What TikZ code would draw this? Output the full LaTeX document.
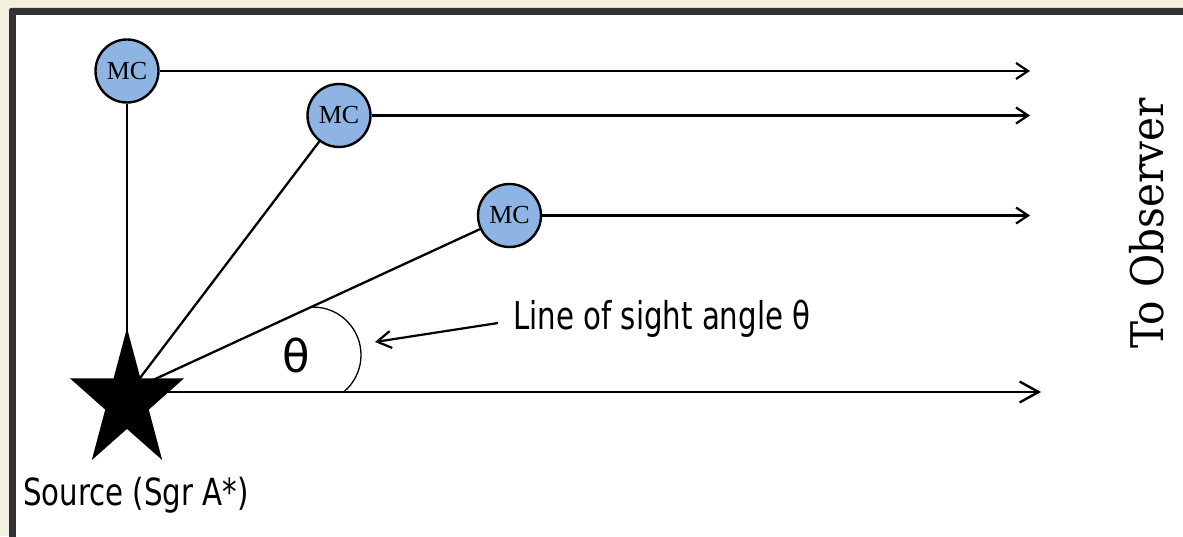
\documentclass[tikz,border=0pt]{standalone}
\usepackage{fontspec}
\usepackage{graphicx}
\usetikzlibrary{arrows.meta}
\newfontfamily\mcfont{Liberation Serif}
\newfontfamily\labfont{DejaVu Sans Condensed}
\newfontfamily\thfont{DejaVu Sans}
\newfontfamily\obsfont{DejaVu Serif Condensed}
\definecolor{bgbeige}{RGB}{245,239,224}
\definecolor{framegray}{RGB}{51,51,51}
\definecolor{mcblue}{RGB}{141,180,226}
\begin{document}
\begin{tikzpicture}[x=1pt,y=1pt,
  mc/.style={circle,draw=black,line width=2.4pt,fill=mcblue,minimum size=63pt,inner sep=0pt,
    font=\mcfont\fontsize{26}{26}\selectfont},
  ray/.style={line width=2.3pt,line cap=butt},
  smallhead/.style={-{Straight Barb[length=12pt,width=16pt,line width=2.2pt]}},
  bighead/.style={-{Straight Barb[length=19pt,width=21pt,line width=2.4pt]}},
  lab/.style={inner sep=0pt,font=\labfont\fontsize{32.5}{32.5}\selectfont}]
\useasboundingbox (0,0) rectangle (1183,536);
\fill[bgbeige] (0,0) rectangle (1183,536);
\fill[framegray,rounded corners=2pt] (9,-10) rectangle (1200,528);
\fill[white] (16,-10) rectangle (1200,520.5);

% nodes
\node[mc] (mc1) at (127,465) {MC};
\node[mc] (mc2) at (339,420.5) {MC};
\node[mc] (mc3) at (509.5,320.5) {MC};
\coordinate (srcv) at (127,140);
\coordinate (src) at (140,158);
\coordinate (src2) at (140,150);
\coordinate (b0) at (140,144);
\coordinate (b1) at (1041,144);
\coordinate (e1) at (1030,465);
\coordinate (e2) at (1030,420.5);
\coordinate (e3) at (1030,320.5);

% rays to source
\draw[ray] (mc1) -- (srcv);
\draw[ray] (mc2) -- (src);
\draw[ray] (mc3) -- (src2);

% arrows to observer
\draw[ray,smallhead] (mc1) -- (e1);
\draw[ray,smallhead] (mc2) -- (e2);
\draw[ray,smallhead] (mc3) -- (e3);
\draw[ray,bighead] (b0) -- (b1);

% angle arc
\coordinate (arcstart) at (343.6,144);
\draw[line width=1.3pt] (arcstart) arc[start angle=-50.4, end angle=91, radius=48pt];
\node[inner sep=0pt,font=\thfont\fontsize{45}{45}\selectfont] (theta) at (296,181) {θ};

% star (source)
\fill[black,shift={(127,135)},xscale=0.82]
  (90:73) -- (126:27.9) -- (162:73) -- (198:27.9) -- (234:73) -- (270:27.9)
  -- (306:73) -- (342:27.9) -- (18:73) -- (54:27.9) -- cycle;

% labels
\node[lab,anchor=base west] (los) at (513,206) {\scalebox{1}[1.18]{Line of sight angle θ}};
\coordinate (p1) at (498,213);
\coordinate (p2) at (375,194);
\draw[line width=2.2pt,-{Straight Barb[length=14pt,width=17pt,line width=2.2pt]}] (p1) -- (p2);

\node[lab,anchor=base west] (srclab) at (23,31) {\scalebox{1}[1.15]{Source (Sgr A*)}};

\node[inner sep=0pt,rotate=90,anchor=base,font=\obsfont\fontsize{45}{45}\selectfont] (obs) at (1163,312.5) {To Observer};
\end{tikzpicture}
\end{document}
